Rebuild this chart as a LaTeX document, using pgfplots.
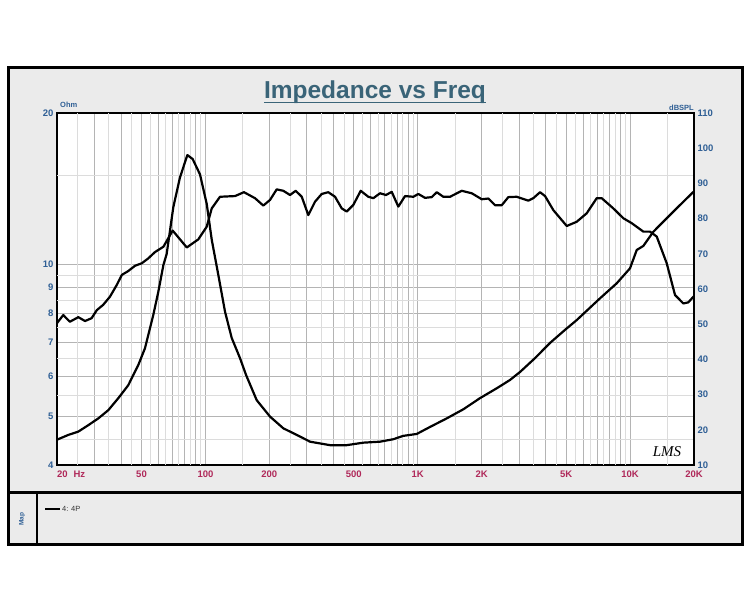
\documentclass[border=0pt]{standalone}
\usepackage{fontspec}
\setmainfont{Liberation Sans}
\newfontfamily\sigfont{Liberation Serif}
\usepackage{pgfplots}
\pgfplotsset{compat=1.18}
\definecolor{bggray}{HTML}{EBEBEB}
\definecolor{titleblue}{HTML}{3A6478}
\definecolor{ylab}{HTML}{2F5F95}
\definecolor{xlab}{HTML}{B0295A}
\definecolor{gdark}{HTML}{B4B4B4}
\definecolor{glight}{HTML}{DCDCDC}

\pgfplotstableread{
f ohm
20 4.49
22.6 4.59
25.2 4.66
28.1 4.80
31.3 4.95
34.9 5.14
38.9 5.43
43.3 5.76
48.3 6.32
51.9 6.82
56.8 7.94
60.0 8.83
63.4 9.98
65.7 10.5
70.6 13.0
75.9 14.9
82.2 16.5
87.1 16.2
94.3 15.1
101.4 13.2
107.1 11.2
115.0 9.54
123.7 8.06
133 7.15
145.5 6.52
155.3 6.04
174.4 5.38
201.5 4.99
232.8 4.73
269.2 4.59
311 4.45
386 4.38
463 4.38
554 4.43
664 4.45
767 4.50
855 4.57
989 4.61
1142 4.76
1369 4.95
1639 5.16
1964 5.43
2354 5.68
2718 5.90
3031 6.12
3566 6.52
4197 6.99
4938 7.42
5606 7.76
7216 8.57
8650 9.18
9990 9.83
10746 10.69
11544 10.89
12866 11.62
14878 12.36
17186 13.13
20000 13.98
}\impedance

\pgfplotstableread{
f db
20 50.3
21.4 52.6
23.0 50.7
25.2 52.0
27.1 50.9
29.1 51.7
30.8 54.0
33.0 55.5
35.5 57.8
38.2 61.1
40.4 64.0
43.3 65.1
46.6 66.6
50.1 67.3
53.8 68.7
57.9 70.5
63.4 72.0
70.1 76.6
81.7 71.8
92.6 74.1
101.4 77.7
107.1 82.9
117.1 86.2
137.8 86.4
151.9 87.5
171.2 85.8
187.3 83.7
201.5 85.3
216.6 88.3
232.8 87.9
250.3 86.7
266.2 87.9
284.2 86.2
305.2 81.0
328.2 84.8
352.9 87.0
379.0 87.5
407.8 86.2
438.5 82.9
462.9 82.0
497.3 83.9
538.7 87.9
585.1 86.2
617.8 85.8
664.2 87.2
708.9 86.7
754.1 87.6
810.0 83.4
871.0 86.4
953.3 86.2
1006 87.0
1082 85.9
1164 86.1
1229 87.5
1319 86.2
1419 86.2
1611 87.9
1796 87.2
2001 85.5
2150 85.7
2312 83.8
2486 83.8
2671 86.1
2924 86.2
3317 85.1
3502 85.8
3766 87.5
3977 86.4
4351 82.4
5031 77.9
5606 79.1
6247 81.5
6963 85.8
7350 85.8
8337 82.9
9294 80.1
10176 78.7
11544 76.3
12410 76.3
13348 74.9
14878 67.3
16277 58.3
17810 55.9
18802 56.2
20000 58.0
}\spl

\begin{document}
\begin{tikzpicture}
\path[use as bounding box] (0,0) rectangle (750pt,600pt);
\fill[white] (0,0) rectangle (750pt,600pt);
\draw[line width=3pt, fill=bggray] (8pt,55pt) rectangle (742pt,532pt);
\draw[line width=3pt] (8pt,107pt) -- (742pt,107pt);
\draw[line width=2pt] (37pt,107pt) -- (37pt,55pt);
\node[rotate=90, text=ylab, font=\bfseries\fontsize{6.5}{7}\selectfont] at (22pt,81pt) {Map};
\draw[line width=2pt] (45pt,91pt) -- (60pt,91pt);
\node[anchor=west, inner sep=1pt, font=\fontsize{7.5}{8}\selectfont, text=black!80] at (61pt,91pt) {4: 4P};

\node[anchor=base, inner sep=0pt, text=titleblue, font=\bfseries\fontsize{24.5}{26}\selectfont] (T) at (375pt,501pt) {Impedance vs Freq};
\draw[titleblue, line width=1.6pt] ([yshift=-3.5pt]T.base west) -- ([yshift=-3.5pt]T.base east);

\node[text=ylab, font=\bfseries\fontsize{7.5}{8}\selectfont, anchor=west, inner sep=0pt] at (60pt,495pt) {Ohm};
\node[text=ylab, font=\bfseries\fontsize{7.5}{8}\selectfont, anchor=east, inner sep=0pt] at (694pt,492pt) {dBSPL};

\begin{axis}[
  at={(57pt,135pt)}, anchor=south west, scale only axis,
  width=637pt, height=352pt,
  xmode=log, ymode=log,
  xmin=20, xmax=20000, ymin=4, ymax=20,
  axis background/.style={fill=white},
  axis line style={line width=1.2pt},
  xtick={20,50,100,200,500,1000,2000,5000,10000,20000},
  xticklabels={\makebox[0pt][l]{20\hspace{6pt}Hz},50,100,200,500,1K,2K,5K,10K,20K},
  minor xtick={30,40,60,70,80,90,300,400,600,700,800,900,3000,4000,6000,7000,8000,9000},
  ytick={4,5,6,7,8,9,10,20},
  yticklabels={4,5,6,7,8,9,10,20},
  extra x ticks={25,35,45,55,65,75,85,95,150,250,350,450,550,650,750,850,950,1500,2500,3500,4500,5500,6500,7500,8500,9500,15000},
  extra x tick labels={},
  extra y ticks={4.5,5.5,6.5,7.5,8.5,9.5,15},
  extra y tick labels={},
  extra tick style={grid=major, major grid style={glight, line width=0.8pt}, major tick length=0pt},
  grid=both,
  major grid style={gdark, line width=0.8pt},
  minor grid style={gdark, line width=0.8pt},
  major tick length=0pt, minor tick length=0pt,
  xticklabel style={text=xlab, font=\bfseries\fontsize{9.5}{10}\selectfont, yshift=-2.5pt},
  yticklabel style={text=ylab, font=\bfseries\fontsize{9.5}{10}\selectfont},
  clip=true,
]
\addplot[black, line width=2.2pt, line join=round] table[x=f, y=ohm] {\impedance};
\end{axis}

\begin{axis}[
  at={(57pt,135pt)}, anchor=south west, scale only axis,
  width=637pt, height=352pt,
  xmode=log, xmin=20, xmax=20000, ymin=10, ymax=110,
  axis y line*=right, axis x line=none,
  axis line style={line width=1.2pt},
  ytick={10,20,30,40,50,60,70,80,90,100,110},
  yticklabels={10,20,30,40,50,60,70,80,90,100,110},
  major tick length=0pt,
  yticklabel style={text=ylab, font=\bfseries\fontsize{9.5}{10}\selectfont},
]
\addplot[black, line width=2.2pt, line join=round] table[x=f, y=db] {\spl};
\end{axis}

\node[font=\sigfont\itshape\fontsize{15}{16}\selectfont] at (667pt,148pt) {LMS};
\end{tikzpicture}
\end{document}
